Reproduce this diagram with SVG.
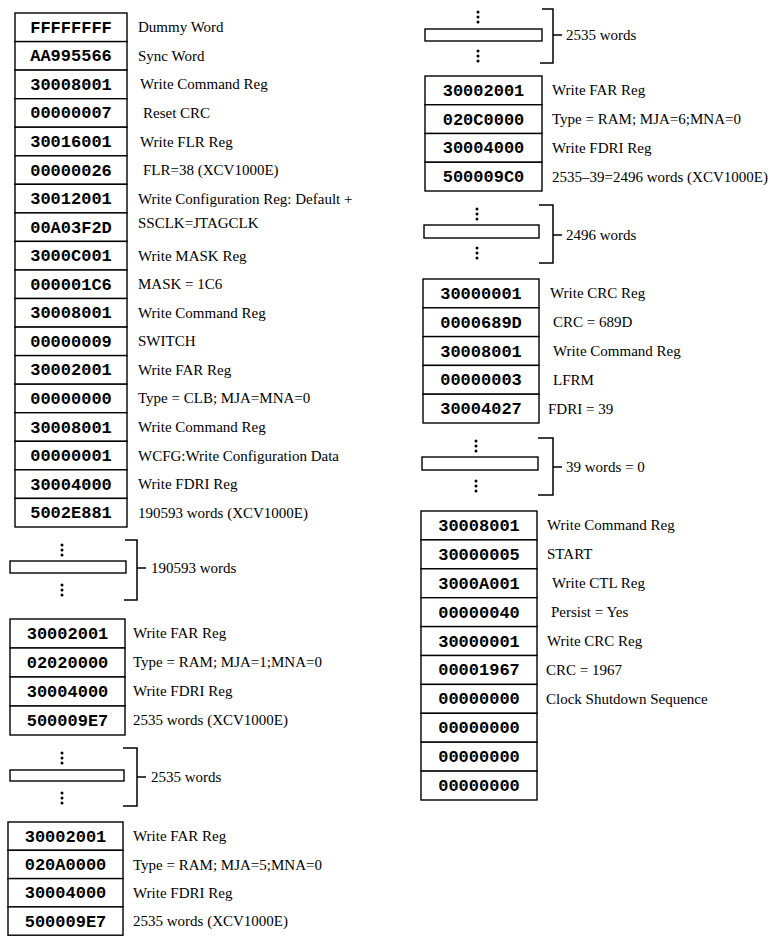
<svg xmlns="http://www.w3.org/2000/svg" width="775" height="936" viewBox="0 0 775 936">
<style>
.cell{fill:#fff;stroke:#000;stroke-width:1.4}
.hex{font-family:"Liberation Mono","Courier New",monospace;font-weight:bold;font-size:17px;fill:#000;text-anchor:middle}
.lbl{font-family:"Liberation Serif","Times New Roman",serif;font-size:15px;fill:#000}
.br{fill:none;stroke:#000;stroke-width:1.5}
.dot{fill:#000}
</style>
<defs>
<g id="vdots"><circle class="dot" cx="0" cy="-5" r="1.5"/><circle class="dot" cx="0" cy="0" r="1.5"/><circle class="dot" cx="0" cy="5" r="1.5"/></g>
</defs>
<rect width="775" height="936" fill="#fff"/>

<!-- Left block 1 -->
<g id="blockL1">
<g id="L1-1"><rect class="cell" x="15" y="13" width="112" height="28.6"/><text class="hex" x="71" y="32.8">FFFFFFFF</text><text class="lbl" x="138" y="32.3">Dummy Word</text></g>
<g id="L1-2"><rect class="cell" x="15" y="41.6" width="112" height="28.5"/><text class="hex" x="71" y="61.3">AA995566</text><text class="lbl" x="138" y="60.8">Sync Word</text></g>
<g id="L1-3"><rect class="cell" x="15" y="70.1" width="112" height="28.6"/><text class="hex" x="71" y="89.9">30008001</text><text class="lbl" x="140" y="89.4">Write Command Reg</text></g>
<g id="L1-4"><rect class="cell" x="15" y="98.7" width="112" height="28.5"/><text class="hex" x="71" y="118.4">00000007</text><text class="lbl" x="143" y="117.9">Reset CRC</text></g>
<g id="L1-5"><rect class="cell" x="15" y="127.2" width="112" height="28.6"/><text class="hex" x="71" y="147">30016001</text><text class="lbl" x="140" y="146.5">Write FLR Reg</text></g>
<g id="L1-6"><rect class="cell" x="15" y="155.8" width="112" height="28.5"/><text class="hex" x="71" y="175.5">00000026</text><text class="lbl" x="143" y="175">FLR=38 (XCV1000E)</text></g>
<g id="L1-7"><rect class="cell" x="15" y="184.3" width="112" height="28.6"/><text class="hex" x="71" y="204.1">30012001</text><text class="lbl" x="138" y="203.6">Write Configuration Reg: Default +</text></g>
<g id="L1-8"><rect class="cell" x="15" y="212.9" width="112" height="28.5"/><text class="hex" x="71" y="232.6">00A03F2D</text><text class="lbl" x="138" y="228">SSCLK=JTAGCLK</text></g>
<g id="L1-9"><rect class="cell" x="15" y="241.4" width="112" height="28.6"/><text class="hex" x="71" y="261.2">3000C001</text><text class="lbl" x="138" y="260.7">Write MASK Reg</text></g>
<g id="L1-10"><rect class="cell" x="15" y="270" width="112" height="28.5"/><text class="hex" x="71" y="289.7">000001C6</text><text class="lbl" x="138" y="289.2">MASK = 1C6</text></g>
<g id="L1-11"><rect class="cell" x="15" y="298.5" width="112" height="28.6"/><text class="hex" x="71" y="318.3">30008001</text><text class="lbl" x="138" y="317.8">Write Command Reg</text></g>
<g id="L1-12"><rect class="cell" x="15" y="327.1" width="112" height="28.5"/><text class="hex" x="71" y="346.8">00000009</text><text class="lbl" x="138" y="346.3">SWITCH</text></g>
<g id="L1-13"><rect class="cell" x="15" y="355.6" width="112" height="28.6"/><text class="hex" x="71" y="375.4">30002001</text><text class="lbl" x="138" y="374.9">Write FAR Reg</text></g>
<g id="L1-14"><rect class="cell" x="15" y="384.2" width="112" height="28.5"/><text class="hex" x="71" y="403.9">00000000</text><text class="lbl" x="138" y="403.4">Type = CLB; MJA=MNA=0</text></g>
<g id="L1-15"><rect class="cell" x="15" y="412.7" width="112" height="28.6"/><text class="hex" x="71" y="432.5">30008001</text><text class="lbl" x="138" y="432">Write Command Reg</text></g>
<g id="L1-16"><rect class="cell" x="15" y="441.3" width="112" height="28.5"/><text class="hex" x="71" y="461">00000001</text><text class="lbl" x="138" y="460.5">WCFG:Write Configuration Data</text></g>
<g id="L1-17"><rect class="cell" x="15" y="469.8" width="112" height="28.6"/><text class="hex" x="71" y="489.6">30004000</text><text class="lbl" x="138" y="489.1">Write FDRI Reg</text></g>
<g id="L1-18"><rect class="cell" x="15" y="498.4" width="112" height="28.6"/><text class="hex" x="71" y="518.1">5002E881</text><text class="lbl" x="138" y="517.6">190593 words (XCV1000E)</text></g>
</g>

<!-- Left gap 1 -->
<g id="gapL1">
<use href="#vdots" x="62" y="550"/>
<rect class="cell" x="10" y="561" width="116" height="12"/>
<use href="#vdots" x="62" y="590"/>
<text class="lbl" x="151" y="573">190593 words</text>
</g>

<!-- Left block 2 -->
<g id="blockL2">
<g id="L2-1"><rect class="cell" x="10" y="619" width="115" height="29"/><text class="hex" x="67.5" y="638.5">30002001</text><text class="lbl" x="133" y="638">Write FAR Reg</text></g>
<g id="L2-2"><rect class="cell" x="10" y="648" width="115" height="29"/><text class="hex" x="67.5" y="667.5">02020000</text><text class="lbl" x="133" y="667">Type = RAM; MJA=1;MNA=0</text></g>
<g id="L2-3"><rect class="cell" x="10" y="677" width="115" height="29"/><text class="hex" x="67.5" y="696.5">30004000</text><text class="lbl" x="133" y="696">Write FDRI Reg</text></g>
<g id="L2-4"><rect class="cell" x="10" y="706" width="115" height="29"/><text class="hex" x="67.5" y="725.5">500009E7</text><text class="lbl" x="133" y="725">2535 words (XCV1000E)</text></g>
</g>

<!-- Left gap 2 -->
<g id="gapL2">
<use href="#vdots" x="62" y="758"/>
<rect class="cell" x="10" y="770" width="114" height="11"/>
<use href="#vdots" x="62" y="798"/>
<text class="lbl" x="151" y="782">2535 words</text>
</g>

<!-- Left block 3 -->
<g id="blockL3">
<g id="L3-1"><rect class="cell" x="8" y="822" width="115" height="28.3"/><text class="hex" x="65.5" y="841.6">30002001</text><text class="lbl" x="133" y="841.1">Write FAR Reg</text></g>
<g id="L3-2"><rect class="cell" x="8" y="850.3" width="115" height="28.3"/><text class="hex" x="65.5" y="870">020A0000</text><text class="lbl" x="133" y="869.5">Type = RAM; MJA=5;MNA=0</text></g>
<g id="L3-3"><rect class="cell" x="8" y="878.6" width="115" height="28.3"/><text class="hex" x="65.5" y="898.3">30004000</text><text class="lbl" x="133" y="897.8">Write FDRI Reg</text></g>
<g id="L3-4"><rect class="cell" x="8" y="906.9" width="115" height="28.3"/><text class="hex" x="65.5" y="926.6">500009E7</text><text class="lbl" x="133" y="926.1">2535 words (XCV1000E)</text></g>
</g>

<!-- Right gap 1 -->
<g id="gapR1">
<use href="#vdots" x="478" y="17"/>
<rect class="cell" x="425" y="29" width="117" height="12"/>
<use href="#vdots" x="478" y="56"/>
<text class="lbl" x="566" y="40">2535 words</text>
</g>

<!-- Right block 1 -->
<g id="blockR1">
<g id="R1-1"><rect class="cell" x="425" y="76" width="117" height="28.75"/><text class="hex" x="483.5" y="95.9">30002001</text><text class="lbl" x="552" y="95.4">Write FAR Reg</text></g>
<g id="R1-2"><rect class="cell" x="425" y="104.75" width="117" height="28.75"/><text class="hex" x="483.5" y="124.6">020C0000</text><text class="lbl" x="552" y="124.1">Type = RAM; MJA=6;MNA=0</text></g>
<g id="R1-3"><rect class="cell" x="425" y="133.5" width="117" height="28.75"/><text class="hex" x="483.5" y="153.4">30004000</text><text class="lbl" x="552" y="152.9">Write FDRI Reg</text></g>
<g id="R1-4"><rect class="cell" x="425" y="162.25" width="117" height="28.75"/><text class="hex" x="483.5" y="182.1">500009C0</text><text class="lbl" x="552" y="181.6">2535–39=2496 words (XCV1000E)</text></g>
</g>

<!-- Right gap 2 -->
<g id="gapR2">
<use href="#vdots" x="477" y="214"/>
<rect class="cell" x="424" y="225" width="115" height="13"/>
<use href="#vdots" x="477" y="253"/>
<text class="lbl" x="566" y="240">2496 words</text>
</g>

<!-- Right block 2 -->
<g id="blockR2">
<g id="R2-1"><rect class="cell" x="423" y="279" width="116" height="28.8"/><text class="hex" x="481" y="298.9">30000001</text><text class="lbl" x="550" y="298.4">Write CRC Reg</text></g>
<g id="R2-2"><rect class="cell" x="423" y="307.8" width="116" height="28.8"/><text class="hex" x="481" y="327.7">0000689D</text><text class="lbl" x="553" y="327.2">CRC = 689D</text></g>
<g id="R2-3"><rect class="cell" x="423" y="336.6" width="116" height="28.8"/><text class="hex" x="481" y="356.5">30008001</text><text class="lbl" x="553" y="356">Write Command Reg</text></g>
<g id="R2-4"><rect class="cell" x="423" y="365.4" width="116" height="28.8"/><text class="hex" x="481" y="385.3">00000003</text><text class="lbl" x="553" y="384.8">LFRM</text></g>
<g id="R2-5"><rect class="cell" x="423" y="394.2" width="116" height="28.8"/><text class="hex" x="481" y="414.1">30004027</text><text class="lbl" x="548" y="413.6">FDRI = 39</text></g>
</g>

<!-- Right gap 3 -->
<g id="gapR3">
<use href="#vdots" x="476" y="446"/>
<rect class="cell" x="422" y="457" width="116" height="13"/>
<use href="#vdots" x="476" y="486"/>
<text class="lbl" x="566" y="472">39 words = 0</text>
</g>

<!-- Right block 3 -->
<g id="blockR3">
<g id="R3-1"><rect class="cell" x="421" y="511" width="116" height="28.9"/><text class="hex" x="479" y="530.95">30008001</text><text class="lbl" x="547" y="530.4">Write Command Reg</text></g>
<g id="R3-2"><rect class="cell" x="421" y="539.9" width="116" height="28.9"/><text class="hex" x="479" y="559.85">30000005</text><text class="lbl" x="547" y="559.3">START</text></g>
<g id="R3-3"><rect class="cell" x="421" y="568.8" width="116" height="28.9"/><text class="hex" x="479" y="588.75">3000A001</text><text class="lbl" x="552" y="588.2">Write CTL Reg</text></g>
<g id="R3-4"><rect class="cell" x="421" y="597.7" width="116" height="28.9"/><text class="hex" x="479" y="617.65">00000040</text><text class="lbl" x="551" y="617.1">Persist = Yes</text></g>
<g id="R3-5"><rect class="cell" x="421" y="626.6" width="116" height="28.9"/><text class="hex" x="479" y="646.55">30000001</text><text class="lbl" x="547" y="646">Write CRC Reg</text></g>
<g id="R3-6"><rect class="cell" x="421" y="655.5" width="116" height="28.9"/><text class="hex" x="479" y="675.45">00001967</text><text class="lbl" x="546" y="674.9">CRC = 1967</text></g>
<g id="R3-7"><rect class="cell" x="421" y="684.4" width="116" height="28.9"/><text class="hex" x="479" y="704.35">00000000</text><text class="lbl" x="546" y="703.8">Clock Shutdown Sequence</text></g>
<g id="R3-8"><rect class="cell" x="421" y="713.3" width="116" height="28.9"/><text class="hex" x="479" y="733.25">00000000</text></g>
<g id="R3-9"><rect class="cell" x="421" y="742.2" width="116" height="28.9"/><text class="hex" x="479" y="762.15">00000000</text></g>
<g id="R3-10"><rect class="cell" x="421" y="771.1" width="116" height="28.9"/><text class="hex" x="479" y="791.05">00000000</text></g>
</g>

<!-- Connectors: brackets -->
<g id="connectors">
<path class="br" d="M125 540 H137 V600 H124 M137 568 H146"/>
<path class="br" d="M123 748 H137 V806 H123 M137 777 H146"/>
<path class="br" d="M542 9 H553 V63 H540 M553 35 H562"/>
<path class="br" d="M539 205 H553 V263 H539 M553 235 H562"/>
<path class="br" d="M538 438 H553 V495 H538 M553 467 H562"/>
</g>
</svg>
